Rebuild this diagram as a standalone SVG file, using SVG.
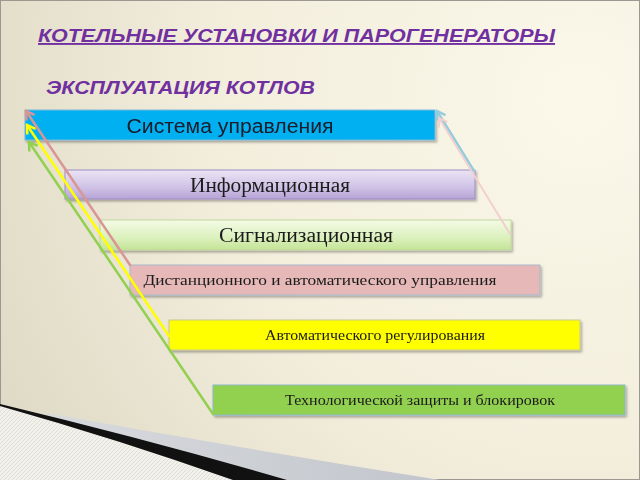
<svg xmlns="http://www.w3.org/2000/svg" width="640" height="480" viewBox="0 0 640 480">
<defs>
<radialGradient id="bg" cx="580" cy="100" r="640" gradientUnits="userSpaceOnUse">
<stop offset="0" stop-color="#fbf8ea"/>
<stop offset="0.6" stop-color="#f2eddb"/>
<stop offset="1" stop-color="#e0dbc6"/>
</radialGradient>
<linearGradient id="gPurple" x1="0" y1="0" x2="0" y2="1">
<stop offset="0" stop-color="#ece4f4"/>
<stop offset="0.6" stop-color="#cfc2e6"/>
<stop offset="1" stop-color="#b6a3d6"/>
</linearGradient>
<linearGradient id="gLight" x1="0" y1="0" x2="0" y2="1">
<stop offset="0" stop-color="#f4fbe6"/>
<stop offset="0.6" stop-color="#dbf0bc"/>
<stop offset="1" stop-color="#c4e496"/>
</linearGradient>
<linearGradient id="gGray" x1="0" y1="0" x2="1" y2="0">
<stop offset="0" stop-color="#d8dade"/>
<stop offset="1" stop-color="#c2c6cc"/>
</linearGradient>
<pattern id="hatch" width="4" height="4" patternUnits="userSpaceOnUse">
<rect width="4" height="4" fill="#f2f1ec"/>
<path d="M0 4 L4 0" stroke="#d6d5ce" stroke-width="0.7"/>
</pattern>
<filter id="sh" x="-5%" y="-20%" width="110%" height="160%">
<feDropShadow dx="1.5" dy="2" stdDeviation="1.2" flood-color="#000" flood-opacity="0.3"/>
</filter>
<marker id="aGreen" markerWidth="12" markerHeight="12" refX="10" refY="6" orient="auto" markerUnits="userSpaceOnUse" viewBox="0 0 12 12"><path d="M2 1 L10 6 L2 11" fill="none" stroke="#92d050" stroke-width="2.5"/></marker>
<marker id="aYellow" markerWidth="12" markerHeight="12" refX="10" refY="6" orient="auto" markerUnits="userSpaceOnUse" viewBox="0 0 12 12"><path d="M2 1 L10 6 L2 11" fill="none" stroke="#ffff00" stroke-width="2.5"/></marker>
<marker id="aPink" markerWidth="12" markerHeight="12" refX="10" refY="6" orient="auto" markerUnits="userSpaceOnUse" viewBox="0 0 12 12"><path d="M2 1 L10 6 L2 11" fill="none" stroke="#d99694" stroke-width="2.5"/></marker>
<marker id="aBlue" markerWidth="12" markerHeight="12" refX="10" refY="6" orient="auto" markerUnits="userSpaceOnUse" viewBox="0 0 12 12"><path d="M2 1 L10 6 L2 11" fill="none" stroke="#93cddd" stroke-width="2.5"/></marker>
<marker id="aLPink" markerWidth="12" markerHeight="12" refX="10" refY="6" orient="auto" markerUnits="userSpaceOnUse" viewBox="0 0 12 12"><path d="M2 1 L10 6 L2 11" fill="none" stroke="#f2d0ce" stroke-width="2"/></marker>
</defs>
<style>
.title{font-family:"Liberation Sans",Arial,sans-serif;font-weight:bold;font-style:italic;fill:#7030a0}
.sans{font-family:"Liberation Sans",Arial,sans-serif;fill:#1a1a2a;text-anchor:middle}
.serif{font-family:"Liberation Serif","Times New Roman",serif;fill:#1a1a1a;text-anchor:middle}
.box{filter:url(#sh)}
.conn{fill:none;stroke-linecap:round}
</style>
<rect width="640" height="480" fill="url(#bg)"/>
<rect x="0.5" y="0.5" width="639" height="479" fill="none" stroke="#9a9890" stroke-width="1"/>
<!-- bottom-left swoosh -->
<path d="M40 412 Q240 448 440 480 L230 480 Z" fill="url(#gGray)"/>
<path d="M0 406 Q120 440 233 480 L0 480 Z" fill="url(#hatch)"/>
<path d="M0 404 Q150 440 287 480 L233 480 Q120 440 0 406 Z" fill="#111"/>

<text class="title" x="38" y="42" font-size="19" text-decoration="underline" textLength="517" lengthAdjust="spacingAndGlyphs">КОТЕЛЬНЫЕ УСТАНОВКИ И ПАРОГЕНЕРАТОРЫ</text>
<text class="title" x="46" y="94" font-size="19" textLength="269" lengthAdjust="spacingAndGlyphs">ЭКСПЛУАТАЦИЯ КОТЛОВ</text>

<g id="n1" class="box"><rect x="25" y="110" width="410" height="30" fill="#00b0f0" stroke="#7fb8d8" stroke-width="1"/><text class="sans" x="230" y="133" font-size="20" textLength="207" lengthAdjust="spacingAndGlyphs">Система управления</text></g>
<g id="n2" class="box"><rect x="65" y="170" width="410" height="29" fill="url(#gPurple)" stroke="#9d8cc6" stroke-width="1"/><text class="serif" x="270" y="192" font-size="20" textLength="160" lengthAdjust="spacingAndGlyphs">Информационная</text></g>
<g id="n3" class="box"><rect x="100" y="220" width="411" height="30" fill="url(#gLight)" stroke="#c2d6a0" stroke-width="1"/><text class="serif" x="306" y="242" font-size="20" textLength="174" lengthAdjust="spacingAndGlyphs">Сигнализационная</text></g>
<g id="n4" class="box"><rect x="130" y="265" width="410" height="30" fill="#e6b9b8" stroke="#a8b8cc" stroke-width="1"/><text class="serif" x="320" y="285" font-size="14.5" textLength="353" lengthAdjust="spacingAndGlyphs">Дистанционного и автоматического управления</text></g>
<g id="n5" class="box"><rect x="169" y="320" width="411" height="30" fill="#ffff00" stroke="#c8c890" stroke-width="1"/><text class="serif" x="375" y="340" font-size="14.5" textLength="220" lengthAdjust="spacingAndGlyphs">Автоматического регулирования</text></g>
<g id="n6" class="box"><rect x="213" y="385" width="412" height="30" fill="#92d050" stroke="#8cb8c8" stroke-width="1"/><text class="serif" x="420" y="405" font-size="14.5" textLength="270" lengthAdjust="spacingAndGlyphs">Технологической защиты и блокировок</text></g>

<g id="connectors" class="conn">
<line x1="213" y1="414" x2="29" y2="142" stroke="#92d050" stroke-width="2.5" marker-end="url(#aGreen)"/>
<line x1="169" y1="336" x2="27" y2="125" stroke="#ffff00" stroke-width="2.5" marker-end="url(#aYellow)"/>
<line x1="130" y1="265" x2="26" y2="111" stroke="#d99694" stroke-width="2.5" marker-end="url(#aPink)"/>
<line x1="474" y1="171" x2="437" y2="111" stroke="#93cddd" stroke-width="2.5" marker-end="url(#aBlue)"/>
<line x1="510" y1="234" x2="439" y2="118" stroke="#f2d0ce" stroke-width="2" marker-end="url(#aLPink)"/>
</g>
</svg>
